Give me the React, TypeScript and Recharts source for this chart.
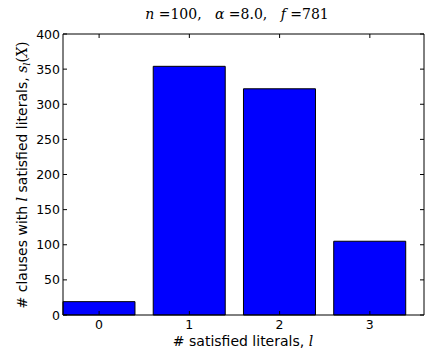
import { BarChart, Bar, XAxis, YAxis } from "recharts";

const literals = [0, 1, 2, 3];
const clauseCounts = [19, 354, 322, 105];
const yTicks = [0, 50, 100, 150, 200, 250, 300, 350, 400];

const data = literals.map((l, i) => ({ l, count: clauseCounts[i] }));

const FONT = "'DejaVu Sans', sans-serif";
const SERIF = "'DejaVu Serif', 'Liberation Serif', serif";
const TICK = 4;

function BottomTick(props: any) {
  const { x, y, payload } = props;
  return (
    <g>
      <line x1={x} y1={y} x2={x} y2={y - TICK} stroke="#000" strokeWidth={1} />
      <text x={x} y={y + 14} textAnchor="middle" fontSize={12.5} fontFamily={FONT} fill="#000">
        {payload.value}
      </text>
    </g>
  );
}

function TopTick(props: any) {
  const { x, y } = props;
  return <line x1={x} y1={y} x2={x} y2={y + TICK} stroke="#000" strokeWidth={1} />;
}

function LeftTick(props: any) {
  const { x, y, payload } = props;
  return (
    <g>
      <line x1={x} y1={y} x2={x + TICK} y2={y} stroke="#000" strokeWidth={1} />
      <text x={x - 3} y={y + 4.5} textAnchor="end" fontSize={12.5} fontFamily={FONT} fill="#000">
        {payload.value}
      </text>
    </g>
  );
}

function RightTick(props: any) {
  const { x, y } = props;
  return <line x1={x} y1={y} x2={x - TICK} y2={y} stroke="#000" strokeWidth={1} />;
}

export default function App() {
  return (
    <div style={{ position: "absolute", left: 0, top: 0, width: 425, height: 354, background: "#fff" }}>
      <BarChart width={425} height={354} data={data} margin={{ top: 33, right: 0, left: 0, bottom: 0 }}>
        <XAxis
          dataKey="l"
          type="number"
          domain={[-0.4, 3.6]}
          ticks={literals}
          height={39}
          tickSize={0}
          tickMargin={0}
          tick={<BottomTick />}
          axisLine={{ stroke: "#000", strokeWidth: 1 }}
          tickLine={false}
        />
        <XAxis
          xAxisId="top"
          dataKey="l"
          type="number"
          orientation="top"
          domain={[-0.4, 3.6]}
          ticks={literals}
          height={1}
          tickSize={0}
          tickMargin={0}
          tick={<TopTick />}
          axisLine={{ stroke: "#000", strokeWidth: 1 }}
          tickLine={false}
        />
        <YAxis
          type="number"
          domain={[0, 400]}
          ticks={yTicks}
          width={63}
          tickSize={0}
          tickMargin={0}
          tick={<LeftTick />}
          axisLine={{ stroke: "#000", strokeWidth: 1 }}
          tickLine={false}
        />
        <YAxis
          yAxisId="right"
          type="number"
          orientation="right"
          domain={[0, 400]}
          ticks={yTicks}
          width={1}
          tickSize={0}
          tickMargin={0}
          tick={<RightTick />}
          axisLine={{ stroke: "#000", strokeWidth: 1 }}
          tickLine={false}
        />
        <Bar dataKey="count" fill="#0000ff" stroke="#000" strokeWidth={1} barSize={72} isAnimationActive={false} />
        {/* invisible series so the mirrored top/right axes get drawn */}
        <Bar
          dataKey="count"
          xAxisId="top"
          yAxisId="right"
          fill="none"
          stroke="none"
          barSize={72}
          isAnimationActive={false}
        />
      </BarChart>
      <svg width={425} height={354} style={{ position: "absolute", left: 0, top: 0, pointerEvents: "none" }}>
        <text x={237} y={19} textAnchor="middle" fontSize={14} fontFamily={SERIF} fill="#000" style={{ whiteSpace: "pre" }}>
          <tspan fontStyle="italic">n</tspan>
          <tspan>{" =100,   "}</tspan>
          <tspan fontStyle="italic">α</tspan>
          <tspan>{" =8.0,   "}</tspan>
          <tspan fontStyle="italic">f</tspan>
          <tspan>{" =781"}</tspan>
        </text>
        <text x={243} y={346} textAnchor="middle" fontSize={14} fontFamily={FONT} fill="#000">
          {"# satisfied literals, "}
          <tspan fontFamily={SERIF} fontStyle="italic">l</tspan>
        </text>
        <text
          transform="translate(27,175) rotate(-90)"
          textAnchor="middle"
          fontSize={14}
          fontFamily={FONT}
          fill="#000"
        >
          {"# clauses with "}
          <tspan fontFamily={SERIF} fontStyle="italic">l</tspan>
          {" satisfied literals, "}
          <tspan fontFamily={SERIF} fontStyle="italic">s</tspan>
          <tspan fontFamily={SERIF} fontStyle="italic" fontSize={10} dy={3}>l</tspan>
          <tspan fontFamily={SERIF} dy={-3}>(</tspan>
          <tspan fontFamily={SERIF} fontStyle="italic">X</tspan>
          <tspan fontFamily={SERIF}>)</tspan>
        </text>
      </svg>
    </div>
  );
}
